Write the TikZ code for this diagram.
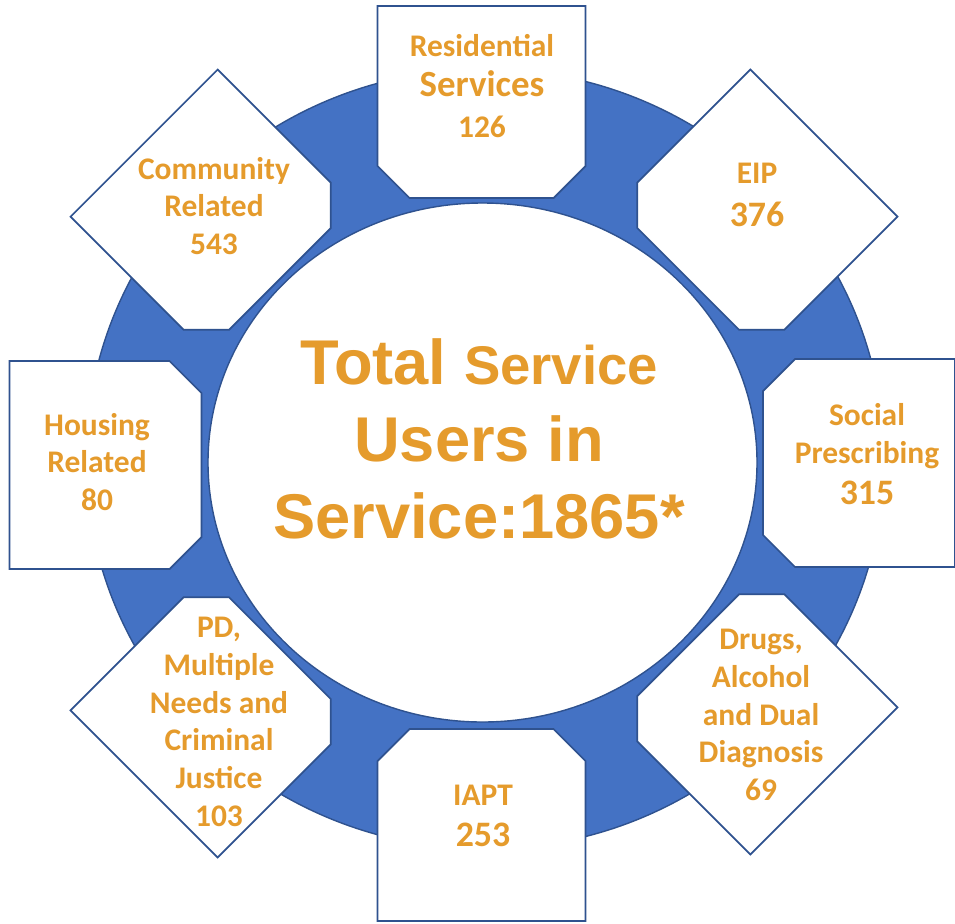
\documentclass[tikz,border=0pt]{standalone}
\usepackage{fontspec}
\setmainfont{Carlito}
\newfontfamily\centrefont{Liberation Sans}
\definecolor{ringblue}{HTML}{4472C4}
\definecolor{edgeblue}{HTML}{2F528F}
\definecolor{labelorange}{HTML}{E59B2C}
\tikzset{
  boxline/.style={draw=edgeblue, fill=white, line width=1pt},
  servicetext/.style={text=labelorange, align=center, font=\bfseries\fontsize{17.9}{21.5}\selectfont},
  centretext/.style={text=labelorange, align=center, font=\centrefont\bfseries\fontsize{36}{44}\selectfont},
  pics/snipbox/.style={code={\draw[boxline] (-104,-96) -- (104,-96) -- (104,64) -- (72,96) -- (-72,96) -- (-104,64) -- cycle;}}
}
\newcommand\bignum[1]{{\fontsize{20.4}{21.5}\selectfont #1}}

\begin{document}
\begin{tikzpicture}[x=0.02cm, y=-0.02cm]
      \useasboundingbox (0,0) rectangle (955,923);
      % blue ring
      \fill[ringblue, even odd rule] (485,459) ellipse [x radius=399, y radius=390]
            (482.5,462.5) ellipse [x radius=274.5, y radius=259.5];
      \draw[edgeblue, line width=0.8pt] (485,459) ellipse [x radius=399, y radius=390];
      \draw[edgeblue, line width=0.8pt] (482.5,462.5) ellipse [x radius=274.5, y radius=259.5];
      % boxes round the ring
      \pic[rotate=0] at (481.5,102) {snipbox};
      \pic[rotate=-45] at (756,211) {snipbox};
      \pic[rotate=-90] at (859,463) {snipbox};
      \pic[rotate=-135] at (756,713) {snipbox};
      \pic[rotate=180] at (481.5,825) {snipbox};
      \pic[rotate=135] at (212,716) {snipbox};
      \pic[rotate=90] at (105.5,465) {snipbox};
      \pic[rotate=45] at (212,211) {snipbox};
      % labels
      \node[servicetext] (residential) at (482,86) {Residential\\[1.5pt]{\fontsize{21}{21.5}\selectfont Services}\\[1.5pt]126};
      \node[servicetext] (eip) at (757,195) {EIP\\[2.5pt]\bignum{376}};
      \node[servicetext] (social) at (867,454) {Social\\Prescribing\\[2pt]\bignum{315}};
      \node[servicetext] (drugs) at (761,715) {Drugs,\\Alcohol\\and Dual\\Diagnosis\\69};
      \node[servicetext] (iapt) at (483,816) {IAPT\\[1.5pt]\bignum{253}};
      \node[servicetext] (pd) at (219,722) {PD,\\Multiple\\Needs and\\Criminal\\Justice\\103};
      \node[servicetext] (housing) at (97,462) {Housing\\Related\\80};
      \node[servicetext] (community) at (214,206) {Community\\Related\\543};
      \node[centretext] (total) at (479,439) {Total {\fontsize{31}{44}\selectfont Service}\\Users in\\Service:1865*};
\end{tikzpicture}
\end{document}
